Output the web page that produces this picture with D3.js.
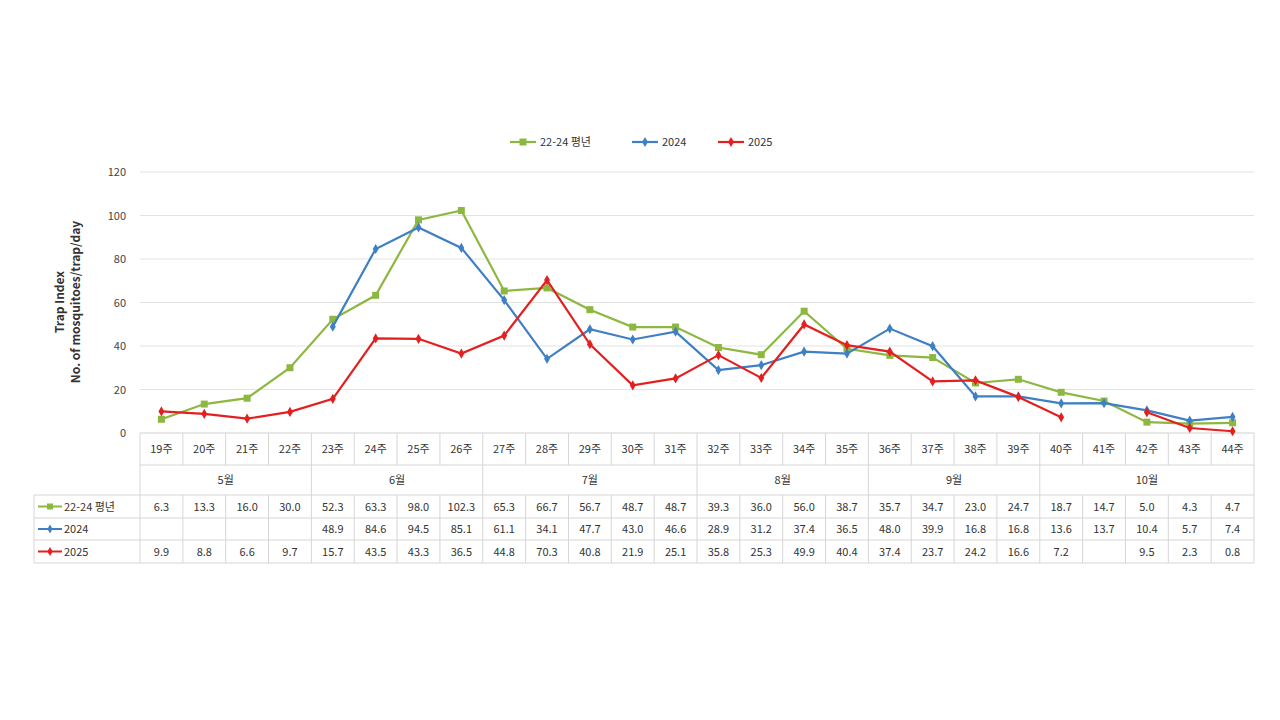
<!DOCTYPE html><html><head><meta charset="utf-8">
<script src="https://cdn.jsdelivr.net/npm/d3@7"></script>
<style>body{margin:0;background:#fff}text{font-family:"Noto Sans CJK KR","Noto Sans",sans-serif}</style></head><body>
<svg width="1280" height="720"></svg>
<script>
const weeks=d3.range(19,45).map(w=>w+"주");
const months=[["5월",4],["6월",4],["7월",5],["8월",4],["9월",4],["10월",5]];
const yTicks=[0,20,40,60,80,100,120];
const sNames=["22-24 평년","2024","2025"];
const sColors=["#8db840","#3f7fc4","#e41f1f"];
const avg=[6.3,13.3,16.0,30.0,52.3,63.3,98.0,102.3,65.3,66.7,56.7,48.7,48.7,39.3,36.0,56.0,38.7,35.7,34.7,23.0,24.7,18.7,14.7,5.0,4.3,4.7];
const y2024=[null,null,null,null,48.9,84.6,94.5,85.1,61.1,34.1,47.7,43.0,46.6,28.9,31.2,37.4,36.5,48.0,39.9,16.8,16.8,13.6,13.7,10.4,5.7,7.4];
const y2025=[9.9,8.8,6.6,9.7,15.7,43.5,43.3,36.5,44.8,70.3,40.8,21.9,25.1,35.8,25.3,49.9,40.4,37.4,23.7,24.2,16.6,7.2,null,9.5,2.3,0.8];
const series=[avg,y2024,y2025];
const svg=d3.select("svg");
const L=140,R=1254,T=172,B=433;
const x=d3.scaleBand().domain(weeks).range([L,R]);
const y=d3.scaleLinear().domain([0,120]).range([B,T]);
const g=svg.append("g");
yTicks.forEach(t=>{
 if(t>0)g.append("line").attr("x1",L).attr("x2",R).attr("y1",y(t)).attr("y2",y(t)).attr("stroke","#e3e3e3");
 g.append("text").attr("x",126).attr("y",y(t)+4).attr("text-anchor","end").attr("font-size",11).attr("fill","#444").text(t);
});
g.append("line").attr("x1",L).attr("x2",R).attr("y1",B).attr("y2",B).attr("stroke","#d0d0d0");
g.append("text").attr("transform","translate(64,302) rotate(-90)").attr("text-anchor","middle").attr("font-size",12).attr("font-weight","bold").attr("fill","#333").text("Trap Index");
g.append("text").attr("transform","translate(80,302) rotate(-90)").attr("text-anchor","middle").attr("font-size",12).attr("font-weight","bold").attr("fill","#333").text("No. of mosquitoes/trap/day");
const line=d3.line().defined(d=>d!=null).x((d,i)=>x(weeks[i])+x.bandwidth()/2).y(d=>y(d));
series.forEach((s,k)=>{
 g.append("path").attr("d",line(s)).attr("fill","none").attr("stroke",sColors[k]).attr("stroke-width",2.2);
 s.forEach((v,i)=>{if(v==null)return;
  const cx=x(weeks[i])+x.bandwidth()/2;
  if(k==0)g.append("rect").attr("x",cx-3.5).attr("y",y(v)-3.5).attr("width",7).attr("height",7).attr("fill",sColors[k]);
  else g.append("path").attr("d",d3.symbol(d3.symbolDiamond,30)()).attr("transform",`translate(${cx},${y(v)})`).attr("fill",sColors[k]);
 });
});
// legend
const lx=[510,632,718];
sNames.forEach((n,k)=>{
 g.append("line").attr("x1",lx[k]).attr("x2",lx[k]+26).attr("y1",142).attr("y2",142).attr("stroke",sColors[k]).attr("stroke-width",2.2);
 if(k==0)g.append("rect").attr("x",lx[k]+9.5).attr("y",138.5).attr("width",7).attr("height",7).attr("fill",sColors[k]);
 else g.append("path").attr("d",d3.symbol(d3.symbolDiamond,30)()).attr("transform",`translate(${lx[k]+13},142)`).attr("fill",sColors[k]);
 g.append("text").attr("x",lx[k]+30).attr("y",146).attr("font-size",11).attr("fill","#333").text(n);
});
// table
const gc="#d6d6d6";
const rowY=[433,465,495,518,540,563];
const t=svg.append("g");
weeks.forEach((w,i)=>{
 t.append("text").attr("x",x(w)+x.bandwidth()/2).attr("y",453).attr("text-anchor","middle").attr("font-size",11).attr("fill","#333").text(w);
});
x.domain().concat([null]).forEach((w,i)=>{
 const xx=w?x(w):R;
 t.append("line").attr("x1",xx).attr("x2",xx).attr("y1",433).attr("y2",465).attr("stroke",gc);
 t.append("line").attr("x1",xx).attr("x2",xx).attr("y1",495).attr("y2",563).attr("stroke",gc);
});
let idx=0;
t.append("line").attr("x1",L).attr("x2",L).attr("y1",465).attr("y2",495).attr("stroke",gc);
months.forEach(([m,n])=>{
 const x0=x(weeks[idx]),x1=idx+n<26?x(weeks[idx+n]):R;
 t.append("text").attr("x",(x0+x1)/2).attr("y",484).attr("text-anchor","middle").attr("font-size",11).attr("fill","#333").text(m);
 t.append("line").attr("x1",x1).attr("x2",x1).attr("y1",465).attr("y2",495).attr("stroke",gc);
 idx+=n;
});
t.append("line").attr("x1",L).attr("x2",R).attr("y1",465).attr("y2",465).attr("stroke",gc);
[495,518,540,563].forEach(yy=>t.append("line").attr("x1",34).attr("x2",R).attr("y1",yy).attr("y2",yy).attr("stroke",gc));
t.append("line").attr("x1",34).attr("x2",34).attr("y1",495).attr("y2",563).attr("stroke",gc);
series.forEach((s,k)=>{
 const cy=(rowY[k+2]+rowY[k+3])/2;
 t.append("line").attr("x1",38).attr("x2",62).attr("y1",cy).attr("y2",cy).attr("stroke",sColors[k]).attr("stroke-width",2);
 if(k==0)t.append("rect").attr("x",47).attr("y",cy-3).attr("width",6).attr("height",6).attr("fill",sColors[k]);
 else t.append("path").attr("d",d3.symbol(d3.symbolDiamond,24)()).attr("transform",`translate(50,${cy})`).attr("fill",sColors[k]);
 t.append("text").attr("x",64).attr("y",cy+4).attr("font-size",11).attr("fill","#333").text(sNames[k]);
 s.forEach((v,i)=>{if(v==null)return;
  t.append("text").attr("x",x(weeks[i])+x.bandwidth()/2).attr("y",cy+4).attr("text-anchor","middle").attr("font-size",11).attr("fill","#333").text(v.toFixed(1));
 });
});
</script></body></html>
